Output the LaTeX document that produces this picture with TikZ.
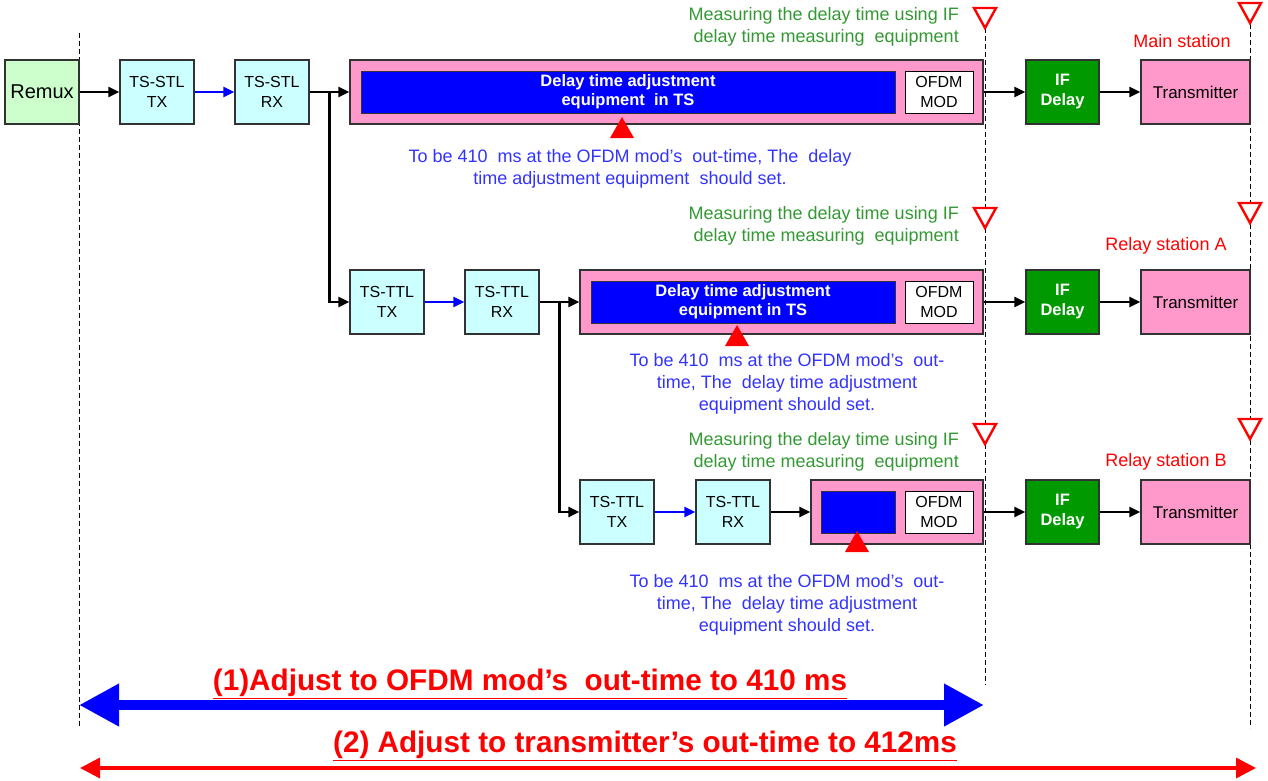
\documentclass[tikz,border=0pt]{standalone}
\usepackage{fontspec}
\setmainfont{Liberation Sans}
\usetikzlibrary{arrows.meta,calc}

\definecolor{remuxgreen}{RGB}{204,255,204}
\definecolor{linkcyan}{RGB}{204,255,255}
\definecolor{modpink}{RGB}{255,153,204}
\definecolor{ifgreen}{RGB}{0,153,0}
\definecolor{adjblue}{RGB}{0,0,255}
\definecolor{notegreen}{RGB}{51,153,51}
\definecolor{noteblue}{RGB}{51,51,255}
\definecolor{notered}{RGB}{255,0,0}
\definecolor{edge}{RGB}{50,50,50}

\tikzset{
  box/.style={draw=edge, line width=1.3pt, inner sep=0pt, align=center,
    minimum height=64pt, font=\fontsize{16}{20}\selectfont},
  remuxbox/.style={box, fill=remuxgreen, minimum width=74pt, font=\fontsize{20}{24}\selectfont},
  linkbox/.style={box, fill=linkcyan, minimum width=74pt},
  modframe/.style={draw=edge, line width=1.3pt, fill=modpink, minimum height=64pt, inner sep=0pt},
  adjbox/.style={draw=edge, line width=1pt, fill=adjblue, minimum height=42pt, inner sep=0pt,
    text=white, align=center, font=\bfseries\fontsize{16.5}{19}\selectfont},
  modbox/.style={draw=black, line width=1pt, fill=white, minimum width=68pt, minimum height=42pt,
    inner sep=0pt, align=center, font=\fontsize{16}{20}\selectfont},
  ifbox/.style={box, fill=ifgreen, text=white, minimum width=73pt,
    font=\bfseries\fontsize{16.5}{20}\selectfont},
  txbox/.style={box, fill=modpink, minimum width=109pt, font=\fontsize{17}{20}\selectfont},
  conn/.style={draw=black, line width=2.4pt, -{Triangle[length=11pt,width=10pt]}},
  blueconn/.style={conn, draw=adjblue},
  guide/.style={draw=black, line width=0.8pt, dash pattern=on 5pt off 3pt},
  measnote/.style={text=notegreen, align=right, anchor=east, inner sep=0pt,
    font=\fontsize{18}{22}\selectfont},
  adjnote/.style={text=noteblue, align=center, inner sep=0pt, font=\fontsize{18}{22}\selectfont},
  station/.style={text=notered, inner sep=0pt, font=\fontsize{18}{22}\selectfont},
  bignote/.style={text=notered, inner sep=0pt, font=\bfseries\fontsize{29.7}{34}\selectfont},
  openmark/.pic={\filldraw[draw=notered, fill=white, line width=2.4pt, line join=miter]
    (-11,0) -- (11,0) -- (0,20) -- cycle;},
  fillmark/.pic={\fill[notered] (-12,0) -- (12,0) -- (0,-21) -- cycle;},
}

\begin{document}
\begin{tikzpicture}[x=1pt,y=-1pt]
\useasboundingbox (0,0) rectangle (1268,780);

% timing reference lines
\coordinate (g1t) at (79,33);   \coordinate (g1b) at (79,728);
\coordinate (g2t) at (985,28);  \coordinate (g2b) at (985,685);
\coordinate (g3t) at (1250,24); \coordinate (g3b) at (1250,728);
\draw[guide] (g1t) -- (g1b);
\draw[guide] (g2t) -- (g2b);
\draw[guide] (g3t) -- (g3b);

% ---------- main station ----------
\node[remuxbox] (remux) at (42,92) {Remux};
\node[linkbox] (stltx) at (157,92) {TS-STL\\TX};
\node[linkbox] (stlrx) at (272,92) {TS-STL\\RX};
\node[modframe, minimum width=633pt] (mod1) at (666.5,92) {};
\node[adjbox, minimum width=534pt] (adj1) at (628,92) {Delay time adjustment\\equipment\ \ in TS};
\node[modbox] (ofdm1) at (939,92) {OFDM\\MOD};
\node[ifbox] (if1) at (1062.5,92) {IF\\Delay};
\node[txbox] (tx1) at (1195.5,92) {Transmitter};

% ---------- relay station A ----------
\node[linkbox] (ttltxa) at (387,302) {TS-TTL\\TX};
\node[linkbox] (ttlrxa) at (502,302) {TS-TTL\\RX};
\node[modframe, minimum width=403pt] (mod2) at (781.5,302) {};
\node[adjbox, minimum width=304pt] (adj2) at (743,302) {Delay time adjustment\\equipment in TS};
\node[modbox] (ofdm2) at (939,302) {OFDM\\MOD};
\node[ifbox] (if2) at (1062.5,302) {IF\\Delay};
\node[txbox] (tx2) at (1195.5,302) {Transmitter};

% ---------- relay station B ----------
\node[linkbox] (ttltxb) at (617,512) {TS-TTL\\TX};
\node[linkbox] (ttlrxb) at (733,512) {TS-TTL\\RX};
\node[modframe, minimum width=172pt] (mod3) at (897,512) {};
\node[adjbox, minimum width=74pt] (adj3) at (858,512) {};
\node[modbox] (ofdm3) at (939,512) {OFDM\\MOD};
\node[ifbox] (if3) at (1062.5,512) {IF\\Delay};
\node[txbox] (tx3) at (1195.5,512) {Transmitter};

% signal flow
\draw[conn] (remux) -- (stltx);
\draw[blueconn] (stltx) -- (stlrx);
\draw[conn] (stlrx) -- (mod1);
\draw[conn] ($(stlrx.east)!0.5!(mod1.west)$) |- (ttltxa.west);
\draw[conn] (mod1) -- (if1);
\draw[conn] (if1) -- (tx1);

\draw[blueconn] (ttltxa) -- (ttlrxa);
\draw[conn] (ttlrxa) -- (mod2);
\draw[conn] ($(ttlrxa.east)!0.5!(mod2.west)$) |- (ttltxb.west);
\draw[conn] (mod2) -- (if2);
\draw[conn] (if2) -- (tx2);

\draw[blueconn] (ttltxb) -- (ttlrxb);
\draw[conn] (ttlrxb) -- (mod3);
\draw[conn] (mod3) -- (if3);
\draw[conn] (if3) -- (tx3);

% measuring points
\pic at (985,8) {openmark};
\pic at (1250,3) {openmark};
\pic at (985,208) {openmark};
\pic at (1250,203) {openmark};
\pic at (985,424) {openmark};
\pic at (1250,419) {openmark};

% adjustment points
\pic at (622,138) {fillmark};
\pic at (737,346) {fillmark};
\pic at (857,552) {fillmark};

% notes
\node[measnote] (m1) at (959,27) {Measuring the delay time using IF\\delay time measuring\ \ equipment};
\node[measnote] (m2) at (959,226) {Measuring the delay time using IF\\delay time measuring\ \ equipment};
\node[measnote] (m3) at (959,452) {Measuring the delay time using IF\\delay time measuring\ \ equipment};

\node[adjnote] (n1) at (630,169) {To be 410\ \ ms at the OFDM mod’s\ \ out-time, The\ \ delay\\time adjustment equipment\ \ should set.};
\node[adjnote] (n2) at (787,384) {To be 410\ \ ms at the OFDM mod’s\ \ out-\\time, The\ \ delay time adjustment\\equipment should set.};
\node[adjnote] (n3) at (787,605) {To be 410\ \ ms at the OFDM mod’s\ \ out-\\time, The\ \ delay time adjustment\\equipment should set.};

\node[station] (s1) at (1182,41) {Main station};
\node[station] (s2) at (1166,246) {Relay station A};
\node[station] (s3) at (1166,462) {Relay station B};

% overall timing targets
\coordinate (a1l) at (79,705);  \coordinate (a1r) at (984,705);
\coordinate (a2l) at (80,768);  \coordinate (a2r) at (1256,768);
\draw[adjblue, line width=10pt,
  {Triangle[length=40pt,width=40pt]}-{Triangle[length=40pt,width=40pt]}] (a1l) -- (a1r);
\draw[notered, line width=3.5pt,
  {Triangle[length=20pt,width=20pt]}-{Triangle[length=20pt,width=20pt]}] (a2l) -- (a2r);

\node[bignote] (t1) at (530,684) {\underline{(1)Adjust to OFDM mod’s\ \ out-time to 410 ms}};
\node[bignote] (t2) at (645,746) {\underline{(2) Adjust to transmitter’s out-time to 412ms}};
\end{tikzpicture}
\end{document}
